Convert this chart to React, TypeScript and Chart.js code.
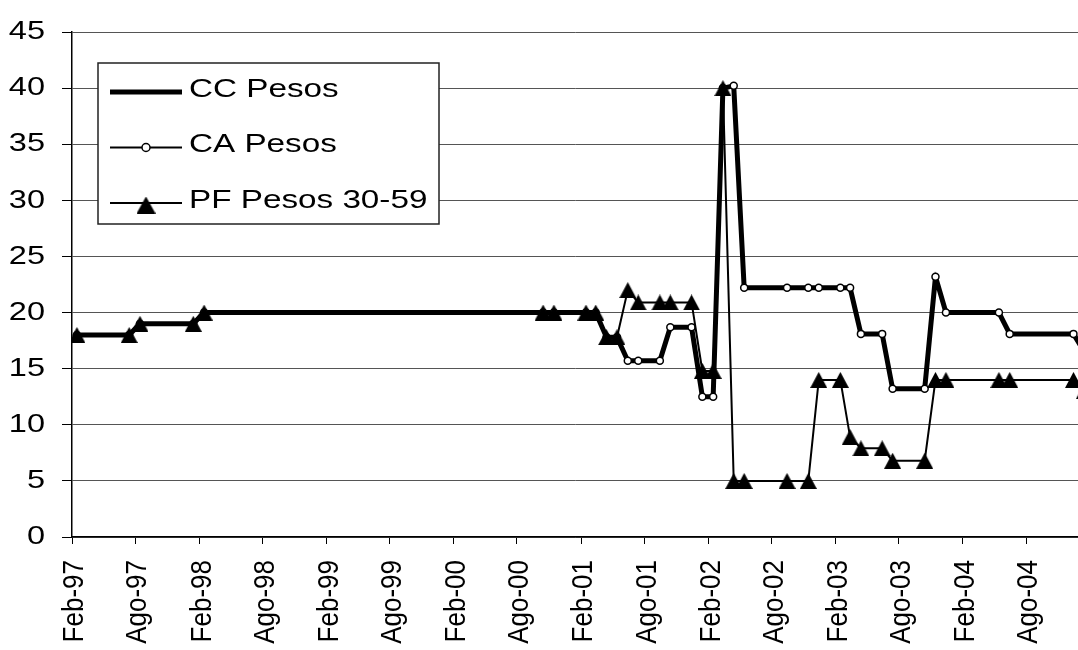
import React, { useEffect, useRef } from "react";
import { Chart, registerables } from "chart.js";

Chart.register(...registerables);

// ---------------- data ----------------
const seriesNames = ["CC Pesos", "CA Pesos", "PF Pesos 30-59"];

const obsDates = [
  "1997-02-15", "1997-07-15", "1997-08-15", "1998-01-15", "1998-02-15",
  "2000-10-15", "2000-11-15", "2001-02-15", "2001-03-15", "2001-04-15",
  "2001-05-15", "2001-06-15", "2001-07-15", "2001-09-15", "2001-10-15",
  "2001-12-15", "2002-01-15", "2002-02-15", "2002-03-15", "2002-04-15",
  "2002-05-15", "2002-09-15", "2002-11-15", "2002-12-15", "2003-02-15",
  "2003-03-15", "2003-04-15", "2003-06-15", "2003-07-15", "2003-10-15",
  "2003-11-15", "2003-12-15", "2004-05-15", "2004-06-15", "2004-12-15",
  "2005-01-15",
];

const ccPesos = [
  18, 18, 19, 19, 20, 20, 20, 20, 20, 17.8, 17.8, 15.7, 15.7, 15.7, 18.7,
  18.7, 12.5, 12.5, 40, 40.2, 22.2, 22.2, 22.2, 22.2, 22.2, 22.2, 18.1, 18.1,
  13.2, 13.2, 23.2, 20, 20, 18.1, 18.1, 16.5,
];

const caPesos = [
  18, 18, 19, 19, 20, 20, 20, 20, 20, 17.8, 17.8, 15.7, 15.7, 15.7, 18.7,
  18.7, 12.5, 12.5, 40, 40.2, 22.2, 22.2, 22.2, 22.2, 22.2, 22.2, 18.1, 18.1,
  13.2, 13.2, 23.2, 20, 20, 18.1, 18.1, 16.5,
];

const pfPesos = [
  18, 18, 19, 19, 20, 20, 20, 20, 20, 17.8, 17.8, 22, 20.9, 20.9, 20.9, 20.9,
  14.8, 14.8, 40, 5, 5, 5, 5, 14, 14, 8.9, 7.9, 7.9, 6.8, 6.8, 14, 14, 14, 14,
  14, 13,
];

const xTickDates = [
  "1997-02-01", "1997-08-01", "1998-02-01", "1998-08-01", "1999-02-01",
  "1999-08-01", "2000-02-01", "2000-08-01", "2001-02-01", "2001-08-01",
  "2002-02-01", "2002-08-01", "2003-02-01", "2003-08-01", "2004-02-01",
  "2004-08-01",
];
const xTickLabels = [
  "Feb-97", "Ago-97", "Feb-98", "Ago-98", "Feb-99", "Ago-99", "Feb-00",
  "Ago-00", "Feb-01", "Ago-01", "Feb-02", "Ago-02", "Feb-03", "Ago-03",
  "Feb-04", "Ago-04",
];
const axisStartDate = "1997-02-01";
const axisEndDate = "2004-12-28";
const yMin = 0;
const yMax = 45;
const yStep = 5;

// ---------------- helpers ----------------
const FONT = '"Liberation Sans", Arial, Helvetica, sans-serif';

function dayOf(s: string): number {
  const [y, m, d] = s.split("-").map(Number);
  const [y0, m0, d0] = axisStartDate.split("-").map(Number);
  return (Date.UTC(y, m - 1, d) - Date.UTC(y0, m0 - 1, d0)) / 86400000;
}

function makeTriangle(w: number, h: number): HTMLCanvasElement {
  const c = document.createElement("canvas");
  c.width = w;
  c.height = h;
  const g = c.getContext("2d")!;
  g.beginPath();
  g.moveTo(w / 2, 0);
  g.lineTo(w, h);
  g.lineTo(0, h);
  g.closePath();
  g.fillStyle = "#000";
  g.fill();
  return c;
}

function stretchedText(
  ctx: CanvasRenderingContext2D,
  text: string,
  x: number,
  y: number,
  align: CanvasTextAlign,
  size: number,
  sx: number,
  rotate = false
) {
  ctx.save();
  ctx.translate(x, y);
  ctx.scale(sx, 1);
  if (rotate) ctx.rotate(-Math.PI / 2);
  ctx.font = `${size}px ${FONT}`;
  ctx.fillStyle = "#000";
  ctx.textAlign = align;
  ctx.textBaseline = "middle";
  ctx.fillText(text, 0, 0);
  ctx.restore();
}

function drawCircle(ctx: CanvasRenderingContext2D, x: number, y: number, r: number) {
  ctx.beginPath();
  ctx.arc(x, y, r, 0, Math.PI * 2);
  ctx.fillStyle = "#fff";
  ctx.fill();
  ctx.lineWidth = 1.5;
  ctx.strokeStyle = "#000";
  ctx.stroke();
}

export default function App() {
  const canvasRef = useRef<HTMLCanvasElement | null>(null);

  useEffect(() => {
    document.body.style.margin = "0";
    const canvas = canvasRef.current;
    if (!canvas) return;

    const triMarker = makeTriangle(17, 16);
    const triLegend = makeTriangle(19, 17);

    const days = obsDates.map(dayOf);
    const mk = (vals: number[]) => days.map((d, i) => ({ x: d, y: vals[i] }));
    const tickDays = xTickDates.map(dayOf);

    const textPlugin = {
      id: "stretchedLabelsAndLegend",
      afterDraw(chart: any) {
        const { ctx, chartArea } = chart;
        const xs = chart.scales.x;
        const ys = chart.scales.y;

        ys.ticks.forEach((t: any, i: number) => {
          const py = ys.getPixelForTick(i);
          stretchedText(ctx, String(t.value), chartArea.left - 27, py, "right", 26, 1.25);
        });
        xs.ticks.forEach((_t: any, i: number) => {
          const px = xs.getPixelForTick(i);
          stretchedText(ctx, xTickLabels[i], px + 3, chartArea.bottom + 23, "right", 26, 1.17, true);
        });

        const lx = chartArea.left + 26;
        const ly = chartArea.top + 31;
        const lw = 341;
        const lh = 161;
        ctx.save();
        ctx.fillStyle = "#fff";
        ctx.fillRect(lx, ly, lw, lh);
        ctx.strokeStyle = "#222";
        ctx.lineWidth = 1.5;
        ctx.strokeRect(lx, ly, lw, lh);
        chart.data.datasets.forEach((ds: any, i: number) => {
          const ry = ly + 29 + i * 55.5;
          const x0 = lx + 12;
          const x1 = lx + 84;
          ctx.beginPath();
          ctx.moveTo(x0, ry);
          ctx.lineTo(x1, ry);
          ctx.strokeStyle = "#000";
          ctx.lineWidth = ds.borderWidth;
          ctx.lineCap = "butt";
          ctx.stroke();
          const cx = (x0 + x1) / 2;
          if (ds.pointStyle instanceof HTMLCanvasElement) {
            ctx.drawImage(triLegend, cx - triLegend.width / 2, ry - triLegend.height / 2 + 2);
          } else if (ds.pointRadius > 0) {
            drawCircle(ctx, cx, ry, 4);
          }
          stretchedText(ctx, ds.label, lx + 91, ry - 2, "left", 25, 1.33);
        });
        ctx.restore();
      },
    };

    const chart = new Chart(canvas, {
      type: "line",
      data: {
        datasets: [
          {
            label: seriesNames[0],
            data: mk(ccPesos),
            borderColor: "#000",
            borderWidth: 5,
            pointRadius: 0,
            borderJoinStyle: "round",
            borderCapStyle: "round",
            tension: 0,
            order: 3,
          },
          {
            label: seriesNames[1],
            data: mk(caPesos),
            borderColor: "#000",
            borderWidth: 2,
            pointStyle: "circle",
            pointRadius: 3.5,
            pointBorderWidth: 1.5,
            pointBackgroundColor: "#fff",
            pointBorderColor: "#000",
            tension: 0,
            order: 2,
          },
          {
            label: seriesNames[2],
            data: mk(pfPesos),
            borderColor: "#000",
            borderWidth: 2,
            pointStyle: triMarker,
            pointRadius: 8,
            pointBackgroundColor: "#000",
            pointBorderColor: "#000",
            tension: 0,
            order: 1,
          },
        ] as any,
      },
      options: {
        animation: false,
        responsive: false,
        layout: { autoPadding: false, padding: { top: 32, right: 0, bottom: 0, left: 0 } },
        plugins: { legend: { display: false }, tooltip: { enabled: false } },
        scales: {
          x: {
            type: "linear",
            min: dayOf(axisStartDate),
            max: dayOf(axisEndDate),
            afterBuildTicks: (s: any) => {
              s.ticks = tickDays.map((v) => ({ value: v }));
            },
            afterFit: (s: any) => {
              s.height = 113;
            },
            ticks: { display: false, autoSkip: false },
            grid: {
              drawOnChartArea: false,
              drawTicks: true,
              tickLength: 7,
              tickColor: "#000",
              tickWidth: 1,
            },
            border: { color: "#000", width: 1.5 },
          },
          y: {
            min: yMin,
            max: yMax,
            afterFit: (s: any) => {
              s.width = 72;
            },
            ticks: { display: false, stepSize: yStep },
            grid: {
              color: "#555",
              lineWidth: 1,
              drawTicks: true,
              tickLength: 10,
              tickColor: "#000",
            },
            border: { color: "#000", width: 1.5 },
          },
        },
      } as any,
      plugins: [textPlugin],
    });

    return () => chart.destroy();
  }, []);

  return (
    <div style={{ width: 1078, height: 650, position: "relative", background: "#fff", overflow: "hidden" }}>
      <canvas ref={canvasRef} width={1078} height={650} style={{ display: "block" }} />
    </div>
  );
}
